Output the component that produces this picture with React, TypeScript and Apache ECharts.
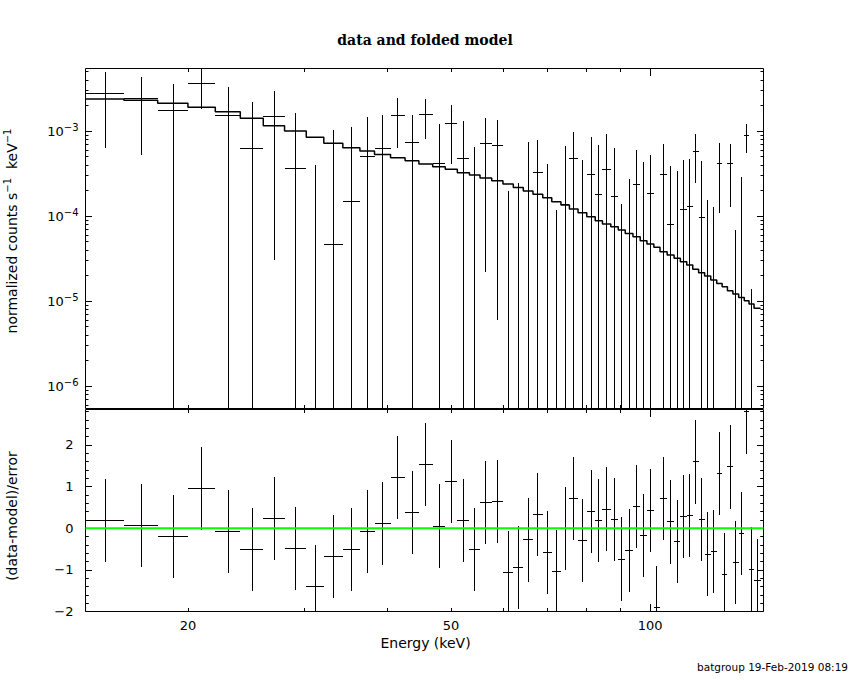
import React, { useEffect, useRef } from "react";
import * as echarts from "echarts";

// ---------------- data ----------------
// energy bin edges (keV), 58 bins
const binEdgesKeV = [
  14.0, 16.0, 18.0, 20.0, 22.0, 24.0, 26.0, 28.0, 30.2, 32.1,
  34.3, 36.4, 38.3, 40.5, 42.6, 44.7, 46.9, 49.0, 51.1, 53.3,
  55.3, 57.6, 59.9, 62.1, 64.3, 66.5, 68.8, 71.0, 73.3, 75.5,
  77.8, 80.2, 82.6, 84.7, 87.2, 89.5, 91.7, 94.2, 96.6, 98.9,
  101.3, 103.5, 106.1, 108.7, 111.1, 113.6, 116.0, 118.4, 120.9, 123.5,
  126.1, 128.5, 130.9, 133.4, 136.1, 138.8, 141.1, 143.6, 146.9,
];

// normalized counts s^-1 keV^-1 (data)
const rate = [
  2.77e-3, 2.42e-3, 1.75e-3, 3.64e-3, 1.54e-3, 6.25e-4, 1.49e-3, 3.64e-4, -6.85e-4, 4.64e-5,
  1.49e-4, 5.03e-4, 6.25e-4, 1.54e-3, 7.42e-4, 1.585e-3, 4.16e-4, 1.23e-3, 4.77e-4, -5.4e-5,
  7.22e-4, 6.78e-4, -4.3e-4, -3.73e-4, -1.2e-5, 3.26e-4, -1.89e-4, -4.72e-4, 1.35e-4, 4.77e-4,
  -4.1e-5, 3.09e-4, 1.8e-4, 3.57e-4, 1.7e-4, -3.4e-4, -1.87e-4, 2.36e-4, -3.2e-5, 1.85e-4,
  -8.1e-4, 3.09e-4, 7.98e-5, -1.14e-4, 1.19e-4, 1.28e-4, 5.82e-4, 9.73e-5, -2.0e-4, -1.24e-4,
  4.16e-4, -3.4e-4, 4.16e-4, -2.62e-4, -2.7e-5, 8.81e-4, -2.46e-4, -3.3e-4,
];

// 1-sigma errors of the data
const rateErr = [
  2.13e-3, 1.9e-3, 1.82e-3, 1.82e-3, 1.75e-3, 1.55e-3, 1.46e-3, 1.26e-3, 1.083e-3, 9.8e-4,
  9.65e-4, 9.6e-4, 9.2e-4, 9.05e-4, 7.98e-4, 7.7e-4, 7.9e-4, 8.2e-4, 8.3e-4, 7.02e-4,
  7.0e-4, 6.72e-4, 6.27e-4, 6.2e-4, 7.54e-4, 4.57e-4, 5.98e-4, 5.9e-4, 5.3e-4, 4.96e-4,
  5.01e-4, 5.41e-4, 5.11e-4, 5.65e-4, 4.6e-4, 4.78e-4, 4.62e-4, 3.67e-4, 4.64e-4, 3.37e-4,
  4.5e-4, 3.94e-4, 3.08e-4, 4.55e-4, 3.41e-4, 3.45e-4, 3.4e-4, 3.47e-4, 3.54e-4, 2.53e-4,
  3.06e-4, 3.2e-4, 2.87e-4, 3.3e-4, 3.15e-4, 3.28e-4, 2.6e-4, 2.6e-4,
];

// folded model per bin
const modelRate = [
  2.38e-3, 2.30e-3, 2.12e-3, 1.90e-3, 1.69e-3, 1.41e-3, 1.155e-3, 1.0e-3, 8.42e-4, 7.16e-4,
  6.37e-4, 5.82e-4, 5.31e-4, 4.86e-4, 4.48e-4, 4.09e-4, 3.80e-4, 3.54e-4, 3.23e-4, 3.04e-4,
  2.80e-4, 2.60e-4, 2.38e-4, 2.17e-4, 1.97e-4, 1.80e-4, 1.64e-4, 1.47e-4, 1.35e-4, 1.21e-4,
  1.09e-4, 9.82e-5, 8.81e-5, 8.05e-5, 7.49e-5, 6.84e-5, 6.25e-5, 5.71e-5, 5.13e-5, 4.68e-5,
  4.28e-5, 3.80e-5, 3.48e-5, 3.18e-5, 2.90e-5, 2.65e-5, 2.36e-5, 2.15e-5, 1.97e-5, 1.77e-5,
  1.61e-5, 1.47e-5, 1.32e-5, 1.21e-5, 1.10e-5, 1.01e-5, 9.22e-6, 8.20e-6,
];

// (data-model)/error
const residual = [
  0.18, 0.06, -0.2, 0.95, -0.08, -0.51, 0.23, -0.49, -1.41, -0.68,
  -0.51, -0.08, 0.11, 1.21, 0.37, 1.53, 0.05, 1.12, 0.18, -0.51,
  0.62, 0.64, -1.07, -0.95, -0.28, 0.33, -0.59, -1.05, 0.0, 0.705,
  -0.3, 0.4, 0.18, 0.46, 0.21, -0.74, -0.54, 0.52, -0.18, 0.42,
  -1.9, 0.705, 0.15, -0.32, 0.28, 0.3, 1.59, 0.21, -0.62, -0.56,
  1.32, -1.11, 1.47, -0.83, -0.12, 2.79, -0.98, -1.26,
];
const residualErr = 1;

// ---------------- axes ----------------
const energyRange = [14.0, 148.4];
const countsRange = [5.44e-7, 5.44e-3];
const residRange = [-2, 2.85];

const energyLabelValues = [20, 50, 100];
const energyMajorTicks = [100];
const energyMinorTicks = [20, 30, 40, 50, 60, 70, 80, 90];
const countsDecadeExponents = [-6, -5, -4, -3];
const countsMinorTicks = [
  6e-7, 7e-7, 8e-7, 9e-7,
  2e-6, 3e-6, 4e-6, 5e-6, 6e-6, 7e-6, 8e-6, 9e-6,
  2e-5, 3e-5, 4e-5, 5e-5, 6e-5, 7e-5, 8e-5, 9e-5,
  2e-4, 3e-4, 4e-4, 5e-4, 6e-4, 7e-4, 8e-4, 9e-4,
  2e-3, 3e-3, 4e-3, 5e-3,
];
const residMajorTicks = [-2, -1, 0, 1, 2];
const residMinorTicks = [
  -1.8, -1.6, -1.4, -1.2, -0.8, -0.6, -0.4, -0.2, 0.2, 0.4,
  0.6, 0.8, 1.2, 1.4, 1.6, 1.8, 2.2, 2.4, 2.6, 2.8,
];

// ---------------- texts ----------------
const titleText = "data and folded model";
const xTitleText = "Energy (keV)";
const yTitleBottomText = "(data-model)/error";
const footerText = "batgroup 19-Feb-2019 08:19";

const SANS = "DejaVu Sans";
const MINUS = "\u2212";
const lg = Math.log10;

function buildOption() {
  const xMin = lg(energyRange[0]);
  const xMax = lg(energyRange[1]);
  const cMin = lg(countsRange[0]);
  const cMax = lg(countsRange[1]);

  const tickStyle = { color: "#000", width: 1 };

  const xAxis = (gridIndex: number, position: string, ticks: number[], len: number, labels?: number[]) => ({
    type: "value",
    gridIndex,
    position,
    min: xMin,
    max: xMax,
    axisLine: { show: false, onZero: false },
    axisTick: { show: true, inside: true, length: len, customValues: ticks.map(lg), lineStyle: tickStyle },
    axisLabel: labels
      ? {
          show: true,
          customValues: labels.map(lg),
          formatter: (v: number) => String(Math.round(Math.pow(10, v))),
          color: "#000",
          fontFamily: SANS,
          fontSize: 13,
          margin: 7,
        }
      : { show: false },
    splitLine: { show: false },
  });

  const yAxis = (
    gridIndex: number,
    position: string,
    min: number,
    max: number,
    ticks: number[],
    len: number,
    label?: any
  ) => ({
    type: "value",
    gridIndex,
    position,
    min,
    max,
    axisLine: { show: false, onZero: false },
    axisTick: { show: true, inside: true, length: len, customValues: ticks, lineStyle: tickStyle },
    axisLabel: label ? label : { show: false },
    splitLine: { show: false },
  });

  const countsLabel = {
    show: true,
    customValues: countsDecadeExponents,
    margin: 7,
    formatter: (v: number) => `{b|10}{s|${MINUS}${Math.round(-v)}}`,
    rich: {
      b: { fontFamily: SANS, fontSize: 13, lineHeight: 18, color: "#000", verticalAlign: "middle" },
      s: { fontFamily: SANS, fontSize: 10, lineHeight: 10, color: "#000", verticalAlign: "top" },
    },
  };
  const residLabel = {
    show: true,
    customValues: residMajorTicks,
    margin: 12,
    color: "#000",
    fontFamily: SANS,
    fontSize: 13,
    formatter: (v: number) => (v < 0 ? MINUS + Math.abs(v) : String(v)),
  };

  const countsMajor = countsDecadeExponents;
  const countsMinor = countsMinorTicks.map(lg);

  // data crosses (top panel)
  const dataItems = rate.map((r, i) => {
    const e0 = binEdgesKeV[i];
    const e1 = binEdgesKeV[i + 1];
    const hi = r + rateErr[i];
    const lo = r - rateErr[i];
    const hasH = r > countsRange[0] && r < countsRange[1] ? 1 : 0;
    const hasV = hi > countsRange[0] ? 1 : 0;
    const yHi = hasV ? Math.min(lg(hi), cMax) : cMin;
    const yLo = lo > countsRange[0] ? lg(lo) : cMin;
    const y = hasH ? lg(r) : cMin;
    return [lg(e0), lg(e1), lg((e0 + e1) / 2), y, yLo, yHi, hasH, hasV];
  });

  const residItems = residual.map((r, i) => {
    const e0 = binEdgesKeV[i];
    const e1 = binEdgesKeV[i + 1];
    const hasH = r >= residRange[0] && r <= residRange[1] ? 1 : 0;
    const yLo = Math.max(r - residualErr, residRange[0]);
    const yHi = Math.min(r + residualErr, residRange[1]);
    const hasV = yHi > yLo ? 1 : 0;
    return [lg(e0), lg(e1), lg((e0 + e1) / 2), hasH ? r : 0, yLo, yHi, hasH, hasV];
  });

  const modelLine = binEdgesKeV.map((e, i) => [lg(e), lg(modelRate[Math.min(i, modelRate.length - 1)])]);

  const snap = (v: number) => Math.floor(v) + 0.5;
  const crossRender = (_params: any, api: any) => {
    const children: any[] = [];
    const xl = api.value(0), xh = api.value(1), xc = api.value(2);
    const y = api.value(3), yl = api.value(4), yh = api.value(5);
    if (api.value(6)) {
      const p1 = api.coord([xl, y]);
      const p2 = api.coord([xh, y]);
      const yy = snap(p1[1]);
      children.push({
        type: "line",
        shape: { x1: Math.round(p1[0]), y1: yy, x2: Math.round(p2[0]), y2: yy },
        style: { stroke: "#000", lineWidth: 1 },
      });
    }
    if (api.value(7)) {
      const p1 = api.coord([xc, yl]);
      const p2 = api.coord([xc, yh]);
      const xx = snap(p1[0]);
      children.push({
        type: "line",
        shape: { x1: xx, y1: Math.round(p1[1]), x2: xx, y2: Math.round(p2[1]) },
        style: { stroke: "#000", lineWidth: 1 },
      });
    }
    return { type: "group", children };
  };

  const gridBase = { left: 85.5, right: 86.5, show: true, borderColor: "#000", borderWidth: 1, backgroundColor: "transparent" };

  return {
    animation: false,
    backgroundColor: "#fff",
    grid: [
      { ...gridBase, top: 68.5, height: 340 },
      { ...gridBase, top: 409.5, height: 202 },
    ],
    xAxis: [
      xAxis(0, "bottom", energyMajorTicks, 7.5),
      xAxis(0, "bottom", energyMinorTicks, 3.5),
      xAxis(0, "top", energyMajorTicks, 7.5),
      xAxis(0, "top", energyMinorTicks, 3.5),
      xAxis(1, "bottom", energyMajorTicks, 7.5, energyLabelValues),
      xAxis(1, "bottom", energyMinorTicks, 3.5),
      xAxis(1, "top", energyMajorTicks, 7.5),
      xAxis(1, "top", energyMinorTicks, 3.5),
    ],
    yAxis: [
      yAxis(0, "left", cMin, cMax, countsMajor, 6.5, countsLabel),
      yAxis(0, "left", cMin, cMax, countsMinor, 3),
      yAxis(0, "right", cMin, cMax, countsMajor, 6.5),
      yAxis(0, "right", cMin, cMax, countsMinor, 3),
      yAxis(1, "left", residRange[0], residRange[1], residMajorTicks, 6.5, residLabel),
      yAxis(1, "left", residRange[0], residRange[1], residMinorTicks, 3.3),
      yAxis(1, "right", residRange[0], residRange[1], residMajorTicks, 6.5),
      yAxis(1, "right", residRange[0], residRange[1], residMinorTicks, 3.3),
    ],
    series: [
      {
        name: "data",
        type: "custom",
        xAxisIndex: 0,
        yAxisIndex: 0,
        silent: true,
        encode: { x: [0, 1, 2], y: [3, 4, 5] },
        renderItem: crossRender,
        data: dataItems,
        z: 2,
      },
      {
        name: "model",
        type: "line",
        xAxisIndex: 0,
        yAxisIndex: 0,
        silent: true,
        step: "end",
        symbol: "none",
        showSymbol: false,
        lineStyle: { color: "#000", width: 1.5 },
        data: modelLine,
        z: 3,
      },
      {
        name: "residuals",
        type: "custom",
        xAxisIndex: 4,
        yAxisIndex: 4,
        silent: true,
        encode: { x: [0, 1, 2], y: [3, 4, 5] },
        renderItem: crossRender,
        data: residItems,
        z: 2,
      },
      {
        name: "zero",
        type: "line",
        xAxisIndex: 4,
        yAxisIndex: 4,
        silent: true,
        symbol: "none",
        showSymbol: false,
        lineStyle: { color: "#00ff00", width: 2 },
        data: [
          [xMin, 0],
          [xMax, 0],
        ],
        z: 4,
      },
    ],
    graphic: [
      {
        type: "text",
        x: 425,
        y: 40,
        style: {
          text: titleText,
          font: 'bold 14px "DejaVu Serif"',
          fill: "#000",
          align: "center",
          verticalAlign: "middle",
          textAlign: "center",
          textVerticalAlign: "middle",
        },
      },
      {
        type: "text",
        x: 425.5,
        y: 643,
        style: {
          text: xTitleText,
          font: `14px "${SANS}"`,
          fill: "#000",
          align: "center",
          verticalAlign: "middle",
          textAlign: "center",
          textVerticalAlign: "middle",
        },
      },
      {
        type: "text",
        x: 12,
        y: 231,
        rotation: Math.PI / 2,
        style: {
          text: `{t|normalized counts s}{s|${MINUS}1}{t|  keV}{s|${MINUS}1}`,
          font: `14px "${SANS}"`,
          fill: "#000",
          align: "center",
          verticalAlign: "middle",
          textAlign: "center",
          textVerticalAlign: "middle",
          rich: {
            t: { fontFamily: SANS, fontSize: 14, lineHeight: 20, fill: "#000", verticalAlign: "middle" },
            s: { fontFamily: SANS, fontSize: 10, lineHeight: 10, fill: "#000", verticalAlign: "top" },
          },
        },
      },
      {
        type: "text",
        x: 12,
        y: 516,
        rotation: Math.PI / 2,
        style: {
          text: yTitleBottomText,
          font: `14px "${SANS}"`,
          fill: "#000",
          align: "center",
          verticalAlign: "middle",
          textAlign: "center",
          textVerticalAlign: "middle",
        },
      },
      {
        type: "text",
        x: 848,
        y: 667,
        style: {
          text: footerText,
          font: `10.5px "${SANS}"`,
          fill: "#000",
          align: "right",
          verticalAlign: "middle",
          textAlign: "right",
          textVerticalAlign: "middle",
        },
      },
    ],
  };
}

export default function App() {
  const ref = useRef<HTMLDivElement>(null);
  useEffect(() => {
    document.body.style.margin = "0";
    const el = ref.current as HTMLDivElement;
    const chart = echarts.init(el, null, { renderer: "svg", width: 850, height: 680 });
    chart.setOption(buildOption() as any);
    return () => {
      chart.dispose();
    };
  }, []);
  return (
    <div
      ref={ref}
      style={{ position: "absolute", left: 0, top: 0, width: 850, height: 680, background: "#fff" }}
    />
  );
}
